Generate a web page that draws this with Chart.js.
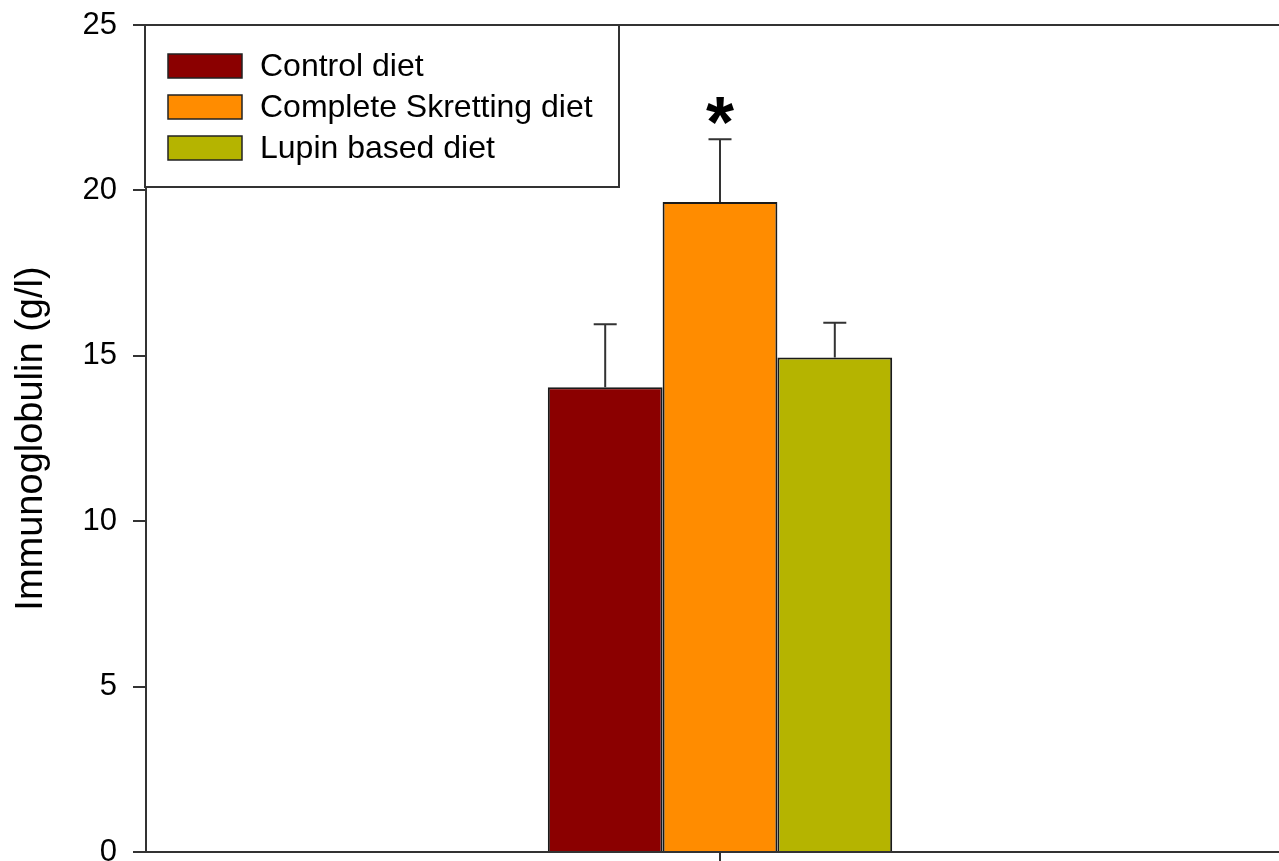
<!DOCTYPE html>
<html>
<head>
<meta charset="utf-8">
<title>Immunoglobulin</title>
<script src="https://cdn.jsdelivr.net/npm/chart.js@4.4.1/dist/chart.umd.min.js"></script>
<style>
  html, body { margin: 0; padding: 0; background: #fff; overflow: hidden; }
  #wrap { width: 1300px; height: 861px; }
</style>
</head>
<body>
<div id="wrap"><canvas id="mainChart" width="1300" height="861"></canvas></div>
<script>
// Dados
const dietLabels = ['Control diet', 'Complete Skretting diet', 'Lupin based diet'];
const igMeans = [14.05, 19.65, 14.95];
const igErrors = [1.9, 1.9, 1.05];
const sigMarks = ['', '*', ''];
const dietColors = ['#8b0000', '#ff8c00', '#b5b400'];
const yTicks = [0, 5, 10, 15, 20, 25];

const fontFamily = '"Liberation Sans", Arial, sans-serif';
Chart.defaults.font.family = fontFamily;
Chart.defaults.color = '#000';

// Barras de erro + asterisco
const errorBars = {
    id: 'errorBars',
    afterDatasetsDraw(chart) {
        const { ctx, scales: { y } } = chart;
        chart.data.datasets.forEach((ds, i) => {
            const bar = chart.getDatasetMeta(i).data[0];
            const topY = y.getPixelForValue(igMeans[i] + igErrors[i]);
            ctx.save();
            ctx.strokeStyle = '#333';
            ctx.lineWidth = 2;
            ctx.beginPath();
            ctx.moveTo(bar.x, bar.y);
            ctx.lineTo(bar.x, topY);
            ctx.moveTo(bar.x - 11.5, topY);
            ctx.lineTo(bar.x + 11.5, topY);
            ctx.stroke();
            if (sigMarks[i]) {
                ctx.fillStyle = '#000';
                ctx.font = 'bold 72px ' + fontFamily;
                ctx.textAlign = 'center';
                ctx.textBaseline = 'alphabetic';
                ctx.fillText(sigMarks[i], bar.x, topY + 8);
            }
            ctx.restore();
        });
    }
};

// Linha superior e legenda com moldura
const frameLegend = {
    id: 'frameLegend',
    afterDraw(chart) {
        const { ctx, chartArea } = chart;
        ctx.save();
        ctx.strokeStyle = '#333';
        ctx.lineWidth = 2;
        ctx.beginPath();
        ctx.moveTo(chartArea.left, chartArea.top);
        ctx.lineTo(chartArea.right, chartArea.top);
        ctx.stroke();

        const bx = chartArea.left - 1, by = chartArea.top, bw = 474, bh = 162;
        ctx.fillStyle = '#fff';
        ctx.fillRect(bx, by, bw, bh);
        ctx.strokeRect(bx, by, bw, bh);

        ctx.font = '32px ' + fontFamily;
        ctx.textBaseline = 'middle';
        ctx.textAlign = 'left';
        chart.data.datasets.forEach((ds, i) => {
            const rowY = by + 41 + i * 41;
            ctx.fillStyle = ds.backgroundColor;
            ctx.fillRect(bx + 23, rowY - 12, 74, 24);
            ctx.strokeStyle = '#222';
            ctx.lineWidth = 1.5;
            ctx.strokeRect(bx + 23, rowY - 12, 74, 24);
            ctx.fillStyle = '#000';
            ctx.fillText(ds.label, bx + 115, rowY + 1);
        });
        ctx.restore();
    }
};

const ctx = document.getElementById('mainChart').getContext('2d');

new Chart(ctx, {
    type: 'bar',
    data: {
        labels: [''],
        datasets: dietLabels.map((label, i) => ({
            label: label,
            data: [igMeans[i]],
            backgroundColor: dietColors[i],
            borderColor: '#1a1a1a',
            borderWidth: 2
        }))
    },
    options: {
        responsive: false,
        animation: false,
        layout: { padding: { top: 25, right: 6, bottom: 0, left: 0 } },
        datasets: { bar: { categoryPercentage: 0.3, barPercentage: 1.0 } },
        plugins: { legend: { display: false }, tooltip: { enabled: false } },
        scales: {
            x: {
                grid: { drawOnChartArea: false, offset: false, tickLength: 9, color: '#333', lineWidth: 2 },
                border: { display: true, color: '#333', width: 2 },
                ticks: { display: false },
                afterFit(scale) {
                    scale.height = 9;
                    scale.paddingLeft = 0;
                    scale.paddingRight = 0;
                }
            },
            y: {
                min: 0,
                max: 25,
                afterBuildTicks(scale) { scale.ticks = yTicks.map(v => ({ value: v })); },
                grid: { drawOnChartArea: false, tickLength: 13, color: '#333', lineWidth: 2 },
                border: { display: true, color: '#333', width: 2 },
                ticks: { font: { size: 31 }, padding: 16, color: '#000' },
                title: {
                    display: true,
                    text: 'Immunoglobulin (g/l)',
                    font: { size: 38 },
                    color: '#000',
                    padding: { top: 9, bottom: 0 }
                },
                afterFit(scale) {
                    scale.width = 146;
                    scale.paddingTop = 0;
                    scale.paddingBottom = 0;
                }
            }
        }
    },
    plugins: [errorBars, frameLegend]
});
</script>
</body>
</html>
